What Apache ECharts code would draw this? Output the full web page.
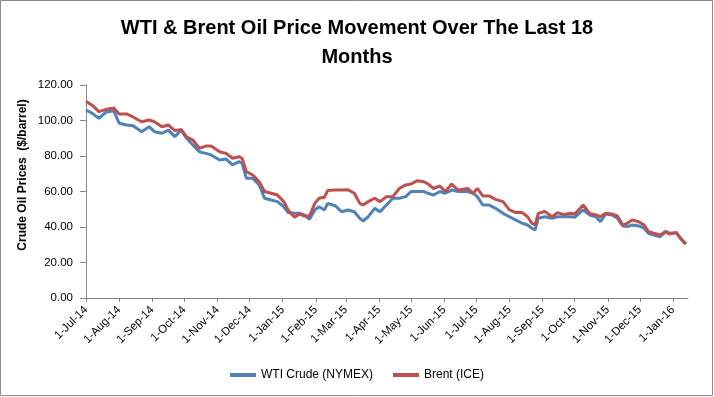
<!DOCTYPE html>
<html>
<head>
<meta charset="utf-8">
<title>WTI & Brent</title>
<script src="https://cdn.jsdelivr.net/npm/echarts@6/dist/echarts.min.js"></script>
<style>
  html, body { margin: 0; padding: 0; background: #fff; }
  #main { width: 714px; height: 397px; }
</style>
</head>
<body>
<div id="main"></div>
<script>
// values (USD per barrel)
var dates = [
  '2014-07-01','2014-07-07','2014-07-13','2014-07-20','2014-07-27','2014-08-01','2014-08-08','2014-08-14',
  '2014-08-22','2014-08-29','2014-09-03','2014-09-10','2014-09-16','2014-09-22','2014-09-28','2014-10-03',
  '2014-10-09','2014-10-15','2014-10-21','2014-10-26','2014-11-03','2014-11-09','2014-11-15','2014-11-21',
  '2014-11-24','2014-11-28','2014-12-04','2014-12-10','2014-12-15','2014-12-21','2014-12-27','2015-01-02',
  '2015-01-06','2015-01-12','2015-01-17','2015-01-21','2015-01-26','2015-01-31','2015-02-04','2015-02-09',
  '2015-02-12','2015-02-19','2015-02-25','2015-03-03','2015-03-09','2015-03-14','2015-03-17','2015-03-22',
  '2015-03-28','2015-04-02','2015-04-08','2015-04-14','2015-04-20','2015-04-26','2015-05-01','2015-05-07',
  '2015-05-13','2015-05-17','2015-05-22','2015-05-28','2015-06-02','2015-06-08','2015-06-14','2015-06-23',
  '2015-06-28','2015-07-02','2015-07-07','2015-07-13','2015-07-19','2015-07-26','2015-08-01','2015-08-07',
  '2015-08-13','2015-08-18','2015-08-22','2015-08-25','2015-08-28','2015-09-03','2015-09-10','2015-09-15',
  '2015-09-21','2015-09-27','2015-10-01','2015-10-09','2015-10-15','2015-10-21','2015-10-25','2015-10-30',
  '2015-11-05','2015-11-10','2015-11-15','2015-11-19','2015-11-24','2015-11-30','2015-12-05','2015-12-09',
  '2015-12-14','2015-12-20','2015-12-25','2015-12-29','2016-01-04','2016-01-08','2016-01-13'
];
var wti = [
  105.9,104.0,101.2,104.8,105.5,98.4,97.5,97.0,
  93.7,96.5,93.7,92.8,94.6,90.9,94.6,90.0,
  86.2,82.4,81.5,80.6,77.7,78.3,75.0,76.8,
  75.9,67.4,67.4,63.7,56.2,55.2,54.3,51.4,
  48.1,47.7,47.7,46.8,44.3,49.6,51.4,49.6,
  53.3,52.0,48.6,49.6,48.6,44.9,43.4,45.8,
  50.5,48.6,52.4,56.2,56.2,57.1,60.0,60.0,
  60.0,59.0,58.0,60.0,59.0,60.8,60.0,60.0,
  59.0,57.1,52.4,52.4,50.5,47.7,45.8,43.9,
  42.1,41.1,39.3,38.3,44.9,45.8,44.9,45.8,
  45.8,45.8,45.5,49.6,46.8,45.8,43.0,47.3,
  46.8,44.9,40.6,40.2,41.1,40.6,39.3,36.5,
  35.5,34.5,37.4,36.5,36.8,33.6,30.4
];
var brent = [
  110.8,108.5,105.0,106.3,107.0,103.7,103.7,102.0,
  99.3,100.3,99.3,96.5,97.5,94.3,95.0,90.8,
  89.0,84.3,85.6,85.6,82.4,81.5,78.7,79.6,
  78.7,71.2,69.3,65.5,60.0,59.0,58.0,54.3,
  49.6,45.5,47.3,46.2,46.2,53.3,56.2,56.8,
  60.5,60.8,60.8,61.0,59.0,53.3,52.4,54.3,
  56.2,54.3,57.1,57.1,61.7,63.7,64.2,66.1,
  65.5,64.2,61.7,63.1,60.0,64.2,60.8,61.7,
  59.0,61.7,57.5,57.5,55.6,54.3,49.6,48.1,
  48.1,45.8,42.1,41.1,47.7,48.7,45.8,48.1,
  47.0,47.7,47.3,52.4,47.7,46.8,45.8,47.7,
  47.3,46.2,41.1,42.1,43.9,43.0,41.1,37.4,
  36.5,35.5,37.4,36.0,37.0,33.6,30.4
];
var seriesNames = ['WTI Crude (NYMEX)', 'Brent (ICE)'];
var monthNames = ['Jan','Feb','Mar','Apr','May','Jun','Jul','Aug','Sep','Oct','Nov','Dec'];

function pairs(vals) {
  var out = [];
  for (var i = 0; i < dates.length; i++) {
    out.push([dates[i], vals[i]]);
  }
  return out;
}

var chart = echarts.init(document.getElementById('main'));
var font = 'Liberation Sans, Arial, sans-serif';
var axisGray = '#868686';

var option = {
  backgroundColor: '#fff',
  animation: false,
  title: {
    text: 'WTI & Brent Oil Price Movement Over The Last 18\nMonths',
    left: 'center',
    top: 14,
    padding: 0,
    textStyle: { fontFamily: font, fontSize: 20, fontWeight: 'bold', color: '#000', lineHeight: 29 }
  },
  legend: {
    bottom: 11,
    left: 'center',
    icon: 'rect',
    itemWidth: 26,
    itemHeight: 4,
    itemGap: 20,
    textStyle: { fontFamily: font, fontSize: 12, color: '#000' },
    data: seriesNames
  },
  grid: { left: 86, right: 26, top: 85, bottom: 99 },
  xAxis: {
    type: 'time',
    min: '2014-07-01',
    max: '2016-01-15',
    minInterval: 28 * 86400000,
    maxInterval: 31 * 86400000,
    axisLine: { lineStyle: { color: axisGray, width: 1 } },
    axisTick: { show: true, length: 4, lineStyle: { color: axisGray } },
    splitLine: { show: false },
    axisLabel: {
      rotate: 45,
      margin: 10,
      fontFamily: font,
      fontSize: 11.5,
      color: '#000',
      showMaxLabel: false,
      hideOverlap: false,
      formatter: function (val) {
        var d = new Date(val);
        return d.getDate() + '-' + monthNames[d.getMonth()] + '-' + String(d.getFullYear()).slice(2);
      }
    }
  },
  yAxis: {
    type: 'value',
    min: 0,
    max: 120,
    interval: 20,
    axisLine: { show: true, lineStyle: { color: axisGray, width: 1 } },
    axisTick: { show: true, length: 6, lineStyle: { color: axisGray } },
    splitLine: { show: false },
    axisLabel: {
      margin: 13,
      fontFamily: font,
      fontSize: 11.5,
      color: '#000',
      formatter: function (v) { return v.toFixed(2); }
    }
  },
  graphic: [
    {
      type: 'rect',
      shape: { x: 0.5, y: 0.5, width: 712, height: 395 },
      style: { fill: 'none', stroke: '#898989', lineWidth: 1 },
      silent: true
    },
    {
      type: 'text',
      x: 23,
      y: 175,
      rotation: Math.PI / 2,
      style: {
        text: 'Crude Oil Prices  ($/barrel)',
        font: 'bold 12px Liberation Sans, Arial, sans-serif',
        fill: '#000',
        align: 'center',
        verticalAlign: 'middle'
      }
    }
  ],
  series: [
    {
      name: seriesNames[0],
      type: 'line',
      showSymbol: false,
      data: pairs(wti),
      itemStyle: { color: '#4F81BD' },
      lineStyle: { color: '#4F81BD', width: 3 }
    },
    {
      name: seriesNames[1],
      type: 'line',
      showSymbol: false,
      data: pairs(brent),
      itemStyle: { color: '#C0504D' },
      lineStyle: { color: '#C0504D', width: 3 }
    }
  ]
};

chart.setOption(option);
</script>
</body>
</html>
